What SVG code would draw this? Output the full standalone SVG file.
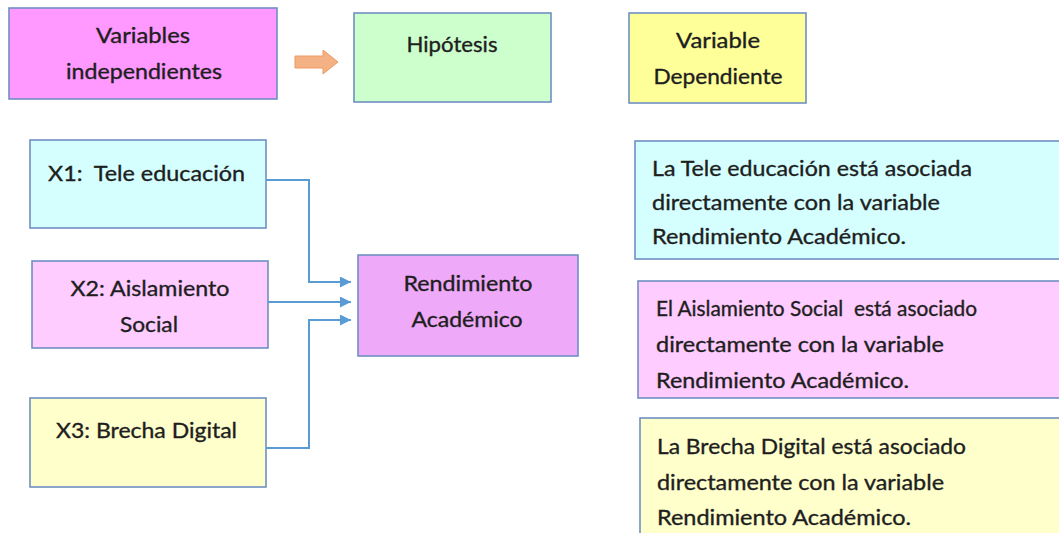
<svg xmlns="http://www.w3.org/2000/svg" width="1059" height="533" viewBox="0 0 1059 533">
<defs>
<style>
.box{stroke:#6f8fc4;stroke-width:1.6}
.t{font-family:Lato,"Open Sans","Liberation Sans",sans-serif;font-size:21px;fill:#1e1e1e;stroke:#1e1e1e;stroke-width:0.35}
.c{text-anchor:middle}
.con{fill:none;stroke:#5b9bd5;stroke-width:2}
</style>
<marker id="ah" viewBox="0 0 10 10" refX="10" refY="5" markerWidth="5.5" markerHeight="5.5" orient="auto" markerUnits="strokeWidth">
<path d="M0,0 L10,5 L0,10 Z" fill="#5b9bd5"/>
</marker>
</defs>
<rect width="1059" height="533" fill="#ffffff"/>

<g id="n-varind">
<rect class="box" x="9" y="8" width="268" height="91" fill="#ff99ff"/>
<text class="t c" x="143" y="43" textLength="94" lengthAdjust="spacingAndGlyphs">Variables</text>
<text class="t c" x="144" y="79" textLength="156" lengthAdjust="spacingAndGlyphs">independientes</text>
</g>

<g id="n-arrow">
<path d="M295,56 L323,56 L323,50 L338,62 L323,74 L323,68 L295,68 Z" fill="#f4b183" stroke="#ed9a62" stroke-width="1"/>
</g>

<g id="n-hip">
<rect class="box" x="354" y="13" width="197" height="89" fill="#ccffcc"/>
<text class="t c" x="452" y="52" textLength="91" lengthAdjust="spacingAndGlyphs">Hipótesis</text>
</g>

<g id="n-vardep">
<rect class="box" x="629" y="13" width="177" height="90" fill="#ffff99"/>
<text class="t c" x="718" y="48" textLength="84" lengthAdjust="spacingAndGlyphs">Variable</text>
<text class="t c" x="718" y="84" textLength="129" lengthAdjust="spacingAndGlyphs">Dependiente</text>
</g>

<g id="n-x1">
<rect class="box" x="30" y="140" width="236" height="88" fill="#d5ffff"/>
<text class="t" x="48" y="181" textLength="197" lengthAdjust="spacingAndGlyphs" xml:space="preserve">X1:  Tele educación</text>
</g>

<g id="n-x2">
<rect class="box" x="32" y="261" width="236" height="87" fill="#ffccff"/>
<text class="t c" x="150" y="296" textLength="159" lengthAdjust="spacingAndGlyphs">X2: Aislamiento</text>
<text class="t c" x="149" y="332" textLength="58" lengthAdjust="spacingAndGlyphs">Social</text>
</g>

<g id="n-x3">
<rect class="box" x="30" y="398" width="236" height="89" fill="#ffffcc"/>
<text class="t" x="56" y="438" textLength="181" lengthAdjust="spacingAndGlyphs">X3: Brecha Digital</text>
</g>

<g id="n-rend">
<rect class="box" x="358" y="255" width="220" height="101" fill="#eeaaf8"/>
<text class="t c" x="468" y="291" textLength="129" lengthAdjust="spacingAndGlyphs">Rendimiento</text>
<text class="t c" x="467" y="327" textLength="111" lengthAdjust="spacingAndGlyphs">Académico</text>
</g>

<g id="n-h1">
<rect class="box" x="635" y="141" width="430" height="118" fill="#d5ffff"/>
<text class="t" x="652" y="176" textLength="320" lengthAdjust="spacingAndGlyphs">La Tele educación está asociada</text>
<text class="t" x="652" y="210" textLength="288" lengthAdjust="spacingAndGlyphs">directamente con la variable</text>
<text class="t" x="652" y="244" textLength="254" lengthAdjust="spacingAndGlyphs">Rendimiento Académico.</text>
</g>

<g id="n-h2">
<rect class="box" x="638" y="281" width="430" height="117" fill="#ffccff"/>
<text class="t" x="656" y="316" textLength="321" lengthAdjust="spacingAndGlyphs" xml:space="preserve">El Aislamiento Social  está asociado</text>
<text class="t" x="656" y="352" textLength="288" lengthAdjust="spacingAndGlyphs">directamente con la variable</text>
<text class="t" x="656" y="388" textLength="253" lengthAdjust="spacingAndGlyphs">Rendimiento Académico.</text>
</g>

<g id="n-h3">
<rect class="box" x="640" y="418" width="430" height="130" fill="#ffffcc"/>
<text class="t" x="657" y="454" textLength="309" lengthAdjust="spacingAndGlyphs">La Brecha Digital está asociado</text>
<text class="t" x="657" y="490" textLength="287" lengthAdjust="spacingAndGlyphs">directamente con la variable</text>
<text class="t" x="657" y="525" textLength="254" lengthAdjust="spacingAndGlyphs">Rendimiento Académico.</text>
</g>

<g id="connectors">
<path class="con" d="M266,180 H309 V282 H351" marker-end="url(#ah)"/>
<path class="con" d="M268,302 H351" marker-end="url(#ah)"/>
<path class="con" d="M266,448 H309 V320 H351" marker-end="url(#ah)"/>
</g>
</svg>
